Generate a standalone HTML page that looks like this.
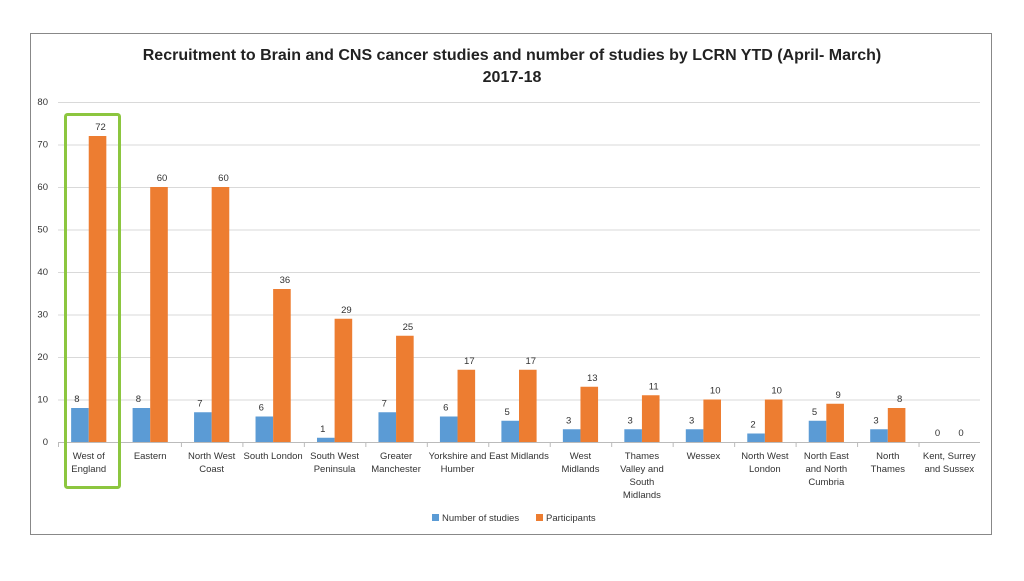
<!DOCTYPE html>
<html><head><meta charset="utf-8"><style>
body{margin:0;background:#fff;font-family:"Liberation Sans",Calibri,sans-serif}
svg text{font-family:"Liberation Sans",sans-serif}
</style></head><body>
<svg width="1024" height="576">
<rect x="30.5" y="33.5" width="961" height="501" fill="#fff" stroke="#888"/>
<text x="512" y="60" text-anchor="middle" font-size="16" font-weight="bold" fill="#222">Recruitment to Brain and CNS cancer studies and number of studies by LCRN YTD (April- March)</text>
<text x="512" y="82" text-anchor="middle" font-size="16" font-weight="bold" fill="#222">2017-18</text>
<g id="grid"></g><g id="bars"></g><g id="labels"></g>
<rect x="65.5" y="114.5" width="54" height="373" rx="2" fill="none" stroke="#8cc63f" stroke-width="3"/>
<rect x="432" y="514" width="7" height="7" fill="#5b9bd5"/>
<text x="442" y="521" font-size="9.5" fill="#333">Number of studies</text>
<rect x="536" y="514" width="7" height="7" fill="#ed7d31"/>
<text x="546" y="521" font-size="9.5" fill="#333">Participants</text>
</svg>
<script>
const categories=[["West of","England"],["Eastern"],["North West","Coast"],["South London"],["South West","Peninsula"],["Greater","Manchester"],["Yorkshire and","Humber"],["East Midlands"],["West","Midlands"],["Thames","Valley and","South","Midlands"],["Wessex"],["North West","London"],["North East","and North","Cumbria"],["North","Thames"],["Kent, Surrey","and Sussex"]];
const studies=[8,8,7,6,1,7,6,5,3,3,3,2,5,3,0];
const participants=[72,60,60,36,29,25,17,17,13,11,10,10,9,8,0];
const ticks=[0,10,20,30,40,50,60,70,80];
const NS="http://www.w3.org/2000/svg";
const x0=58,x1=980,y0=442,y80=102;
const bw=(x1-x0)/categories.length;
const y=v=>y0-(v/80)*(y0-y80);
function mk(tag,attrs,parent,txt){const e=document.createElementNS(NS,tag);for(const k in attrs)e.setAttribute(k,attrs[k]);if(txt!==undefined)e.textContent=txt;document.getElementById(parent).appendChild(e);return e;}
ticks.forEach(t=>{
 const l=mk('line',{x1:x0,x2:x1,y1:y(t)+.5,y2:y(t)+.5,stroke:t===0?'#bbb':'#d9d9d9'},'grid');
 
 
 const tx=mk('text',{x:x0-10,y:y(t)+3,'text-anchor':'end','font-size':'9.5',fill:'#333'},'labels',String(t));
 
 
});
const w=17.6;
categories.forEach((c,i)=>{
 const cx=x0+bw*(i+.5);
 const tk=mk('line',{x1:x0+bw*i+.5,x2:x0+bw*i+.5,y1:y0,y2:y0+5,stroke:'#bbb'},'grid');
 
 
 const b=mk('rect',{x:cx-w,y:y(studies[i]),width:w,height:y0-y(studies[i]),fill:'#5b9bd5'},'bars');
 
 
 const o=mk('rect',{x:cx,y:y(participants[i]),width:w,height:y0-y(participants[i]),fill:'#ed7d31'},'bars');
 
 
 const t1=mk('text',{x:cx-w/2-3,y:y(studies[i])-6,'text-anchor':'middle','font-size':'9.5',fill:'#333'},'labels',String(studies[i]));
 
 
 const t2=mk('text',{x:cx+w/2+3,y:y(participants[i])-6,'text-anchor':'middle','font-size':'9.5',fill:'#333'},'labels',String(participants[i]));
 
 
 c.forEach((ln,j)=>{
  const ct=mk('text',{x:cx,y:459+j*13,'text-anchor':'middle','font-size':'9.5',fill:'#333'},'labels',ln);
  
  
 });
});
</script>
</body></html>
